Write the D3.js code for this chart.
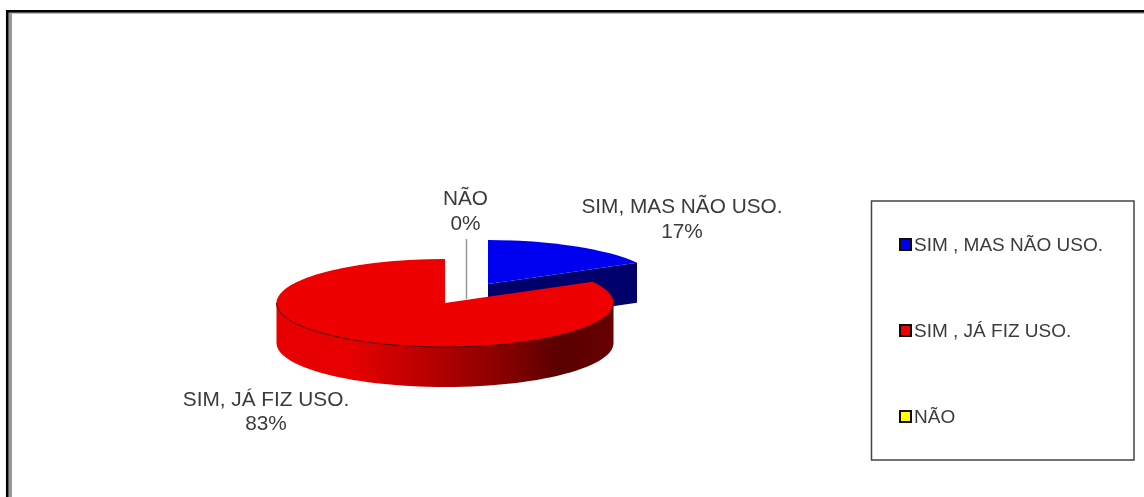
<!DOCTYPE html>
<html><head><meta charset="utf-8">
<script src="https://cdn.jsdelivr.net/npm/d3@7"></script>
<style>html,body{margin:0;padding:0;background:#fff;overflow:hidden}svg{display:block}text{font-family:"Liberation Sans",Arial,sans-serif;fill:#3a3a3a}</style>
</head><body><svg id="c" width="1144" height="497"></svg>
<script>
const categories = ["SIM, MAS NÃO USO.", "SIM, JÁ FIZ USO.", "NÃO"];
const legendLabels = ["SIM , MAS NÃO USO.", "SIM , JÁ FIZ USO.", "NÃO"];
const values = [17, 83, 0];
const percentLabels = ["17%", "83%", "0%"];
const topColors = ["#0000f0", "#ee0000", "#ffff00"];
const sideColors = ["#00006a", "#a00000", "#808000"];

const svg = d3.select("#c");
const W = 1144, H = 497;
const rx = 168.5, ry = 44, depth = 40;
const cx = 445, cy = 303;
const bx = 488, by = 284;

const defs = svg.append("defs");
const grad = defs.append("linearGradient").attr("id","wall").attr("gradientUnits","userSpaceOnUse")
  .attr("x1",cx-rx).attr("x2",cx+rx).attr("y1",0).attr("y2",0);
[[0,"#e80000"],[0.22,"#e60000"],[0.45,"#b80000"],[0.68,"#860000"],[0.84,"#5a0000"],[1,"#680000"]]
  .forEach(s=>grad.append("stop").attr("offset",s[0]).attr("stop-color",s[1]));
defs.append("filter").attr("id","soft").append("feGaussianBlur").attr("stdDeviation",0.6);

// frame
const root = svg.append("g").attr("filter","url(#soft)");
root.append("path").attr("d",`M7.3 ${H+5} V11.3 H${W+5}`).attr("fill","none").attr("stroke","#000").attr("stroke-width",2.7);
root.append("line").attr("x1",10.5).attr("x2",10.5).attr("y1",13).attr("y2",H+5).attr("stroke","#999").attr("stroke-width",3);
root.append("line").attr("x1",10).attr("x2",W+5).attr("y1",13.3).attr("y2",13.3).attr("stroke","#aaa").attr("stroke-width",1);

const pie = d3.pie().sort(null).value(d=>d);
const arcs = pie(values);
const px = (a,r=rx)=>Math.sin(a)*r, py = (a,r=ry)=>-Math.cos(a)*r;
const line = d3.line();

// blue slice
const blue = arcs[0], red = arcs[1];
const bEnd = [bx+px(blue.endAngle,149/Math.sin(blue.endAngle)), by+py(blue.endAngle)];
root.append("path")
  .attr("d",line([[bx,by],bEnd,[bEnd[0],bEnd[1]+depth],[bx,by+depth]])+"Z")
  .attr("fill",sideColors[0]);
const unit = d3.arc().innerRadius(0).outerRadius(1);
root.append("g").attr("transform",`translate(${bx},${by}) scale(${149/Math.sin(blue.endAngle)},${ry})`)
  .append("path").attr("d",unit(blue)).attr("fill",topColors[0]);

// red slice wall
const wallAngles = d3.range(0,61).map(i=>Math.PI/2+i/60*Math.PI);
const wall = wallAngles.map(a=>[cx+px(a),cy+py(a)]).concat(wallAngles.slice().reverse().map(a=>[cx+px(a),cy+py(a)+depth]));
root.append("path").attr("d",line(wall)+"Z").attr("fill","url(#wall)");
root.append("g").attr("transform",`translate(${cx},${cy}) scale(${rx},${ry})`)
  .append("path").attr("d",unit(red)).attr("fill",topColors[1]);
// rim shade along the front of the top face
const rim = wallAngles.map(a=>[cx+px(a),cy+py(a)]);
root.append("path").attr("d",line(rim)).attr("fill","none").attr("stroke","#4a0000").attr("stroke-width",1);

// leader
root.append("line").attr("x1",466.5).attr("x2",466.5).attr("y1",239).attr("y2",299).attr("stroke","#999").attr("stroke-width",1.5);

// data labels
const fs = 20.8;
const labelPos = [[682,[213,238]],[266,[406,430]],[465.5,[205,230]]];
arcs.forEach((d,i)=>{
  const t = root.append("text").attr("text-anchor","middle").attr("font-size",fs);
  t.append("tspan").attr("x",labelPos[i][0]).attr("y",labelPos[i][1][0]).text(categories[i]);
  t.append("tspan").attr("x",labelPos[i][0]).attr("y",labelPos[i][1][1]).text(percentLabels[i]);
});

// legend
root.append("rect").attr("x",871.5).attr("y",201).attr("width",262.5).attr("height",259)
  .attr("fill","#fff").attr("stroke","#444").attr("stroke-width",1.5);
const ly = d3.scalePoint().domain(d3.range(3)).range([244.5,416.5]);
legendLabels.forEach((s,i)=>{
  root.append("rect").attr("x",900).attr("y",ly(i)-5.5).attr("width",11).attr("height",11)
    .attr("fill",topColors[i]).attr("stroke","#111").attr("stroke-width",2);
  root.append("text").attr("x",914).attr("y",ly(i)+6.5).attr("font-size",19).text(s);
});
</script></body></html>
